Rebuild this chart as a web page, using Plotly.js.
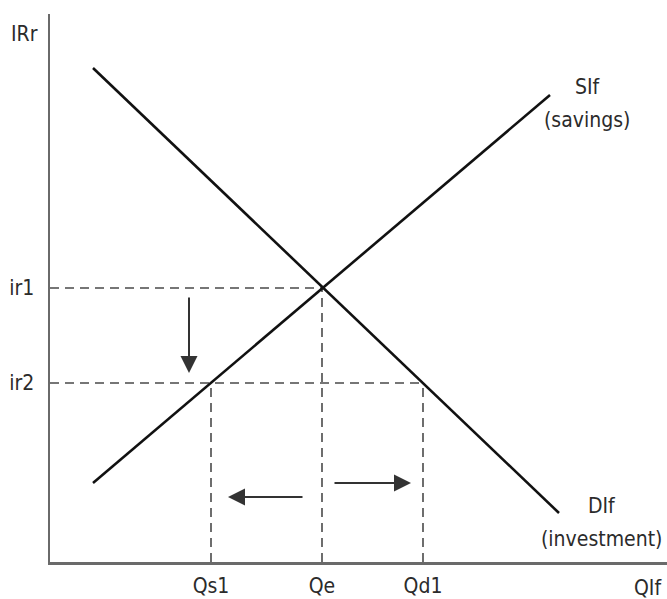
<!DOCTYPE html>
<html>
<head>
<meta charset="utf-8">
<script src="https://cdn.plot.ly/plotly-3.0.1.min.js"></script>
<style>html,body{margin:0;padding:0;background:#fff;}#chart{width:667px;height:599px;}</style>
</head>
<body>
<div id="chart"></div>
<script>
// Equilibrium and shifted values (model units)
const Qs1 = 16.1, Qe = 27.2, Qd1 = 37.3;
const ir1 = 27.4, ir2 = 17.9;

// Savings (supply) curve endpoints
const supplyX = [4.3, 50.0];
const supplyY = [7.9, 46.7];
// Investment (demand) curve endpoints
const demandX = [4.3, 50.9];
const demandY = [49.4, 4.9];

// Axis tick labels
const xTickVals = [Qs1, Qe, Qd1];
const xTickText = ['Qs1', 'Qe', 'Qd1'];
const yTickVals = [ir2, ir1];
const yTickText = ['ir2', 'ir1'];

// Arrows: [tailX, tailY, headX, headY]
const arrowDown  = [13.9, 26.6, 13.9, 18.9];
const arrowLeft  = [25.4, 6.5, 17.8, 6.5];
const arrowRight = [28.3, 7.9, 36.1, 7.9];

const FONT = '"Liberation Sans Narrow", "DejaVu Sans Condensed", "Arial Narrow", sans-serif';
const FS = 21;
const TXT = '#2b2b2b';
const dashStyle = {color: '#4a4a4a', width: 1.6, dash: '9px,6px'};

const traces = [
  {x: [0, Qe], y: [ir1, ir1], mode: 'lines', line: dashStyle, hoverinfo: 'skip'},
  {x: [Qe, Qe], y: [0, ir1], mode: 'lines', line: dashStyle, hoverinfo: 'skip'},
  {x: [0, Qd1], y: [ir2, ir2], mode: 'lines', line: dashStyle, hoverinfo: 'skip'},
  {x: [Qs1, Qs1], y: [0, ir2], mode: 'lines', line: dashStyle, hoverinfo: 'skip'},
  {x: [Qd1, Qd1], y: [0, ir2], mode: 'lines', line: dashStyle, hoverinfo: 'skip'},
  {x: supplyX, y: supplyY, mode: 'lines', line: {color: '#111', width: 2.6}, hoverinfo: 'skip'},
  {x: demandX, y: demandY, mode: 'lines', line: {color: '#111', width: 2.6}, hoverinfo: 'skip'}
];

function arrow(a) {
  return {x: a[2], y: a[3], ax: a[0], ay: a[1], xref: 'x', yref: 'y', axref: 'x', ayref: 'y',
    text: '', showarrow: true, arrowhead: 2, arrowsize: 1.7, arrowwidth: 2, arrowcolor: '#333'};
}
function label(t, x, y, ref, xanchor) {
  return {x: x, y: y, xref: ref ? 'paper' : 'x', yref: ref ? 'paper' : 'y', text: t, showarrow: false,
    font: {family: FONT, size: FS, color: TXT}, xanchor: xanchor || 'center', yanchor: 'middle'};
}

const layout = {
  width: 667, height: 599,
  margin: {l: 50, r: 0, t: 14, b: 37},
  paper_bgcolor: '#fff', plot_bgcolor: '#fff',
  showlegend: false,
  xaxis: {range: [0, 61.7], showgrid: false, zeroline: false, showline: true,
    linecolor: '#6a6a6a', linewidth: 2.5, ticks: '', tickvals: xTickVals, ticktext: xTickText,
    tickfont: {family: FONT, size: FS, color: TXT}, ticklabelstandoff: 3, fixedrange: true},
  yaxis: {range: [0, 54.8], showgrid: false, zeroline: false, showline: true,
    linecolor: '#6a6a6a', linewidth: 2.5, ticks: '', tickvals: yTickVals, ticktext: yTickText,
    tickfont: {family: FONT, size: FS, color: TXT}, ticklabelstandoff: 9, fixedrange: true},
  annotations: [
    arrow(arrowDown), arrow(arrowLeft), arrow(arrowRight),
    label('IRr', -0.042, 0.9635, true),
    label('QIf', 0.995, -0.047, true, 'right'),
    label('SIf', 53.8, 47.5),
    label('(savings)', 53.7, 44.2),
    label('DIf', 55.2, 5.6),
    label('(investment)', 55.1, 2.3)
  ]
};

Plotly.newPlot('chart', traces, layout, {staticPlot: true, displayModeBar: false});
</script>
</body>
</html>
